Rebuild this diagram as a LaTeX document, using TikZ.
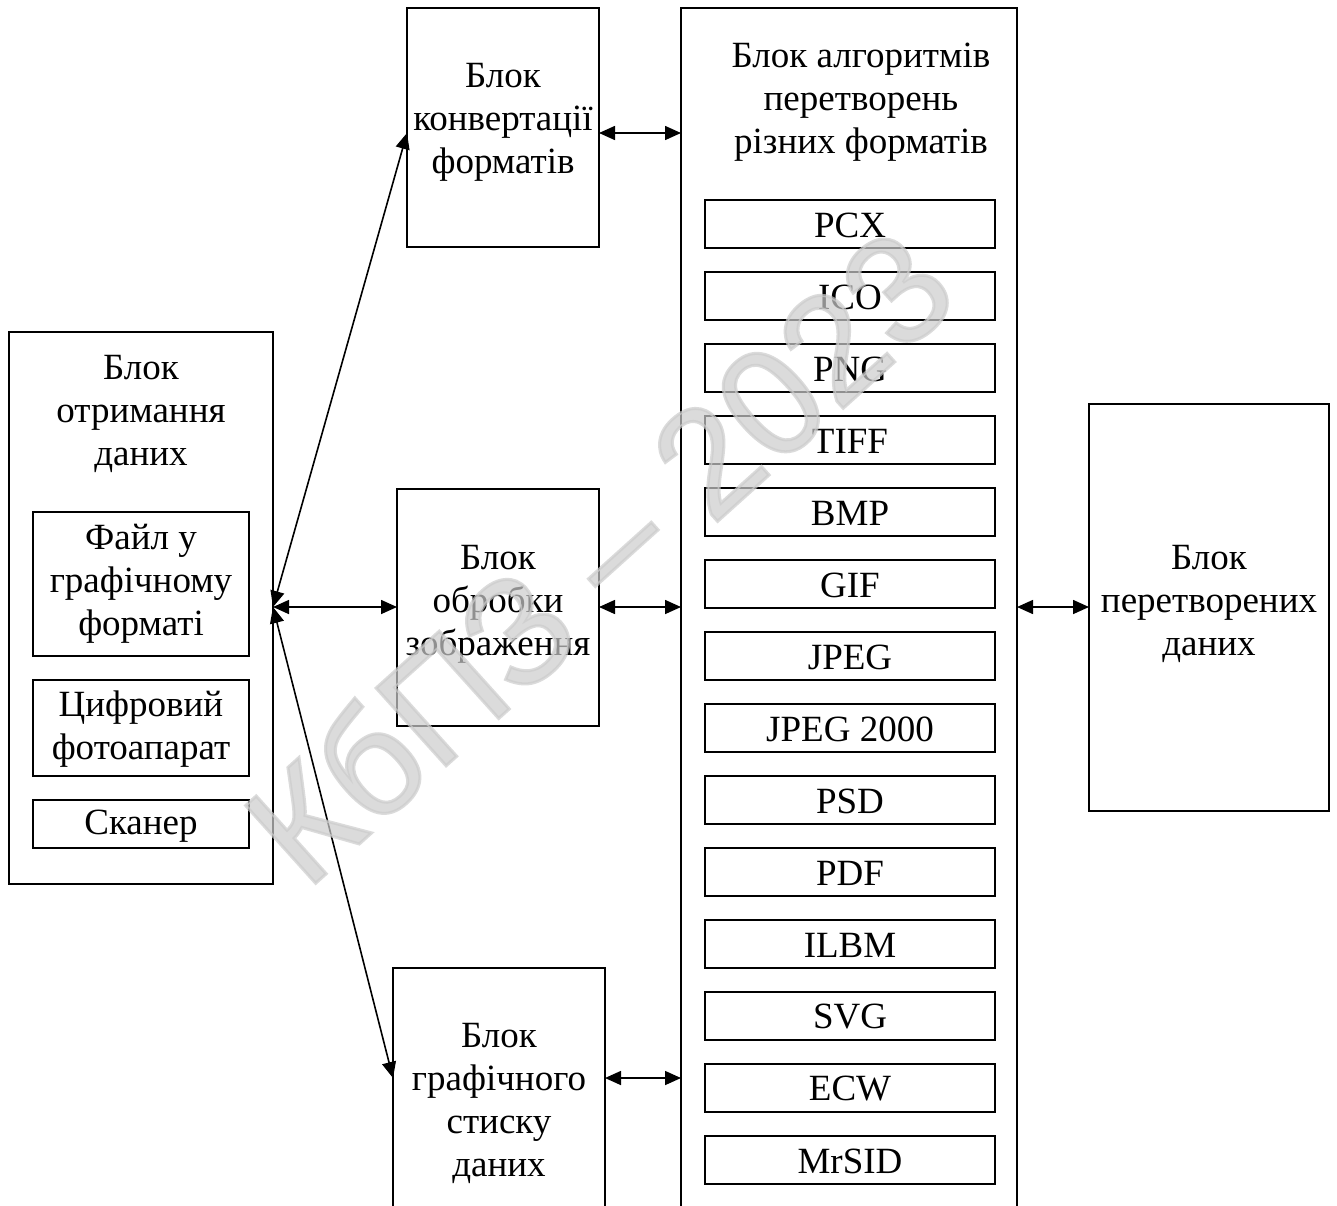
\documentclass[tikz,border=0pt]{standalone}
\usepackage{fontspec}
\setmainfont{Liberation Serif}
\newfontfamily\wmfont[FakeBold=2]{Liberation Sans}
\usetikzlibrary{arrows.meta}
\definecolor{wmgray}{gray}{0.8}
\begin{document}
\begin{tikzpicture}[x=1pt,y=-1pt,
  box/.style={draw,line width=1.6pt,inner sep=0pt,outer sep=0pt,anchor=north west},
  txt/.style={align=center,inner sep=0pt,font=\fontsize{37}{43}\selectfont},
  link/.style={line width=1.6pt,{Triangle[length=16pt,width=14pt]}-{Triangle[length=16pt,width=14pt]}}
]
\useasboundingbox (0,0) rectangle (1337,1205);
\clip (0,0) rectangle (1337,1205);
\fill[white] (0,0) rectangle (1337,1205);

% left block
\node[box,minimum width=264pt,minimum height=552pt] (L) at (9,332) {};
\node[txt] (Lt) at (141,414) {Блок\\отримання\\даних};
\node[box,minimum width=216pt,minimum height=144pt] (L1) at (33,512) {};
\node[txt] (L1t) at (141,584) {Файл у\\графічному\\форматі};
\node[box,minimum width=216pt,minimum height=96pt] (L2) at (33,680) {};
\node[txt] (L2t) at (141,729) {Цифровий\\фотоапарат};
\node[box,minimum width=216pt,minimum height=48pt] (L3) at (33,800) {};
\node[txt] (L3t) at (141,826) {Сканер};

% middle blocks
\node[box,minimum width=192pt,minimum height=239pt] (C) at (407,8) {};
\node[txt] (Ct) at (503,122) {Блок\\конвертації\\форматів};
\node[box,minimum width=202pt,minimum height=237pt] (P) at (397,489) {};
\node[txt] (Pt) at (498,604) {Блок\\обробки\\зображення};
\node[box,minimum width=212pt,minimum height=280pt] (S) at (393,968) {};
\node[txt] (St) at (499,1103) {Блок\\графічного\\стиску\\даних};

% big block
\node[box,minimum width=336pt,minimum height=1240pt] (B) at (681,8) {};
\node[txt] (Bt) at (861,102) {Блок алгоритмів\\перетворень\\різних форматів};
\foreach \n [count=\i from 0] in {PCX,ICO,PNG,TIFF,BMP,GIF,JPEG,JPEG 2000,PSD,PDF,ILBM,SVG,ECW,MrSID}{
  \node[box,minimum width=290pt,minimum height=48pt] (F\i) at (705,200+72*\i) {};
  \node[txt] (F\i t) at (850,225+72*\i) {\n};
}

% right block
\node[box,minimum width=240pt,minimum height=407pt] (R) at (1089,404) {};
\node[txt] (Rt) at (1209,604) {Блок\\перетворених\\даних};

% connection points
\coordinate (hub) at (273,607);
\coordinate (cin) at (407,133);
\coordinate (cout) at (599,133);
\coordinate (bc) at (681,133);
\coordinate (pin) at (397,607);
\coordinate (pout) at (599,607);
\coordinate (bp) at (681,607);
\coordinate (sin) at (393,1078);
\coordinate (sout) at (605,1078);
\coordinate (bs) at (681,1078);
\coordinate (bout) at (1017,607);
\coordinate (rin) at (1089,607);

\draw[link] (hub) -- (cin);
\draw[link] (hub) -- (pin);
\draw[link] (hub) -- (sin);
\draw[link] (cout) -- (bc);
\draw[link] (pout) -- (bp);
\draw[link] (sout) -- (bs);
\draw[link] (bout) -- (rin);

% watermark
\node[rotate=42,text=wmgray,opacity=0.7,inner sep=0pt,font=\wmfont\fontsize{152}{152}\selectfont] (wm) at (598,555) {КбПЗ – 2023};
\end{tikzpicture}
\end{document}
